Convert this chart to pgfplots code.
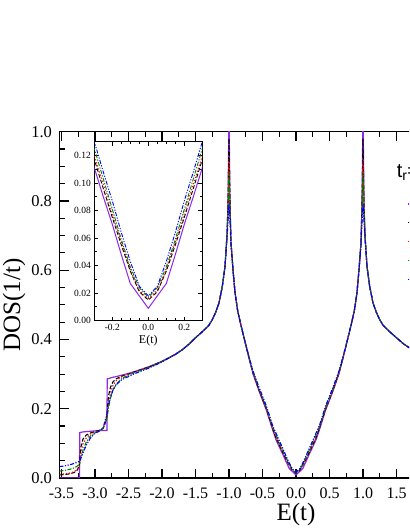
\documentclass[border=0pt]{standalone}
\usepackage{fontspec}
\setmainfont{Liberation Serif}
\newfontfamily\legfont{Liberation Sans}
\usepackage{pgfplots}
\usepackage{pgfplotstable}
\pgfplotsset{compat=1.18}

\definecolor{cviolet}{RGB}{140,40,230}
\definecolor{cgreen}{RGB}{0,130,0}

% DOS curves, one column per t_r value
\pgfplotstableread{
E P K R G B
-3.53 0.000 0.009 0.011 0.020 0.033
-3.45 0.000 0.010 0.012 0.022 0.035
-3.38 0.000 0.012 0.014 0.025 0.038
-3.31 0.000 0.016 0.018 0.029 0.042
-3.26 0.000 0.024 0.025 0.035 0.046
-3.232 0.000 0.040 0.034 0.040 0.048
-3.228 0.131 0.050 0.040 0.043 0.050
-3.21 0.132 0.090 0.070 0.058 0.058
-3.18 0.133 0.112 0.098 0.080 0.072
-3.13 0.134 0.124 0.116 0.104 0.095
-3.07 0.135 0.130 0.127 0.121 0.115
-3.00 0.136 0.134 0.133 0.131 0.129
-2.93 0.137 0.138 0.138 0.137 0.136
-2.88 0.137 0.143 0.143 0.143 0.145
-2.85 0.137 0.158 0.156 0.158 0.165
-2.822 0.137 0.178 0.172 0.172 0.185
-2.818 0.286 0.190 0.180 0.177 0.190
-2.80 0.287 0.235 0.210 0.200 0.212
-2.77 0.289 0.262 0.245 0.230 0.232
-2.73 0.291 0.278 0.268 0.255 0.255
-2.68 0.293 0.287 0.282 0.272 0.270
-2.60 0.297 0.294 0.292 0.287 0.284
-2.50 0.302 0.300 0.299 0.297 0.293
-2.40 0.308 0.307 0.306 0.305 0.302
-2.20 0.321 0.320 0.320 0.319 0.317
-2.00 0.337 0.337 0.336 0.336 0.335
-1.80 0.357 0.357 0.357 0.357 0.357
-1.70 0.370 0.370 0.370 0.370 0.370
-1.60 0.386 0.386 0.386 0.386 0.386
-1.50 0.405 0.405 0.405 0.405 0.405
-1.40 0.422 0.422 0.422 0.422 0.422
-1.30 0.441 0.441 0.441 0.441 0.441
-1.25 0.457 0.457 0.457 0.457 0.457
-1.20 0.478 0.478 0.478 0.478 0.478
-1.15 0.505 0.505 0.505 0.505 0.505
-1.10 0.553 0.553 0.553 0.553 0.553
-1.06 0.610 0.610 0.610 0.610 0.610
-1.03 0.700 0.700 0.700 0.700 0.690
-1.015 0.790 0.790 0.780 0.770 0.740
-1.00 1.060 0.980 0.920 0.880 0.790
-0.985 0.790 0.790 0.780 0.770 0.740
-0.97 0.680 0.680 0.680 0.680 0.670
-0.94 0.600 0.600 0.600 0.600 0.600
-0.91 0.535 0.535 0.535 0.535 0.535
-0.87 0.482 0.482 0.482 0.482 0.482
-0.82 0.440 0.440 0.440 0.440 0.440
-0.77 0.400 0.400 0.400 0.400 0.401
-0.70 0.345 0.346 0.346 0.347 0.349
-0.64 0.300 0.302 0.303 0.305 0.308
-0.55 0.250 0.253 0.254 0.256 0.261
-0.44 0.195 0.198 0.199 0.202 0.207
-0.35 0.140 0.143 0.145 0.148 0.152
-0.30 0.111 0.117 0.120 0.125 0.130
-0.25 0.090 0.096 0.099 0.103 0.108
-0.20 0.070 0.075 0.078 0.081 0.087
-0.15 0.048 0.055 0.057 0.059 0.064
-0.10 0.027 0.036 0.037 0.039 0.043
-0.05 0.018 0.021 0.022 0.024 0.025
0.00 0.009 0.015 0.016 0.017 0.018
0.05 0.018 0.021 0.022 0.024 0.025
0.10 0.027 0.036 0.037 0.039 0.043
0.15 0.048 0.055 0.057 0.059 0.064
0.20 0.070 0.075 0.078 0.081 0.087
0.25 0.090 0.096 0.099 0.103 0.108
0.30 0.111 0.117 0.120 0.125 0.130
0.35 0.140 0.143 0.145 0.148 0.152
0.44 0.195 0.198 0.199 0.202 0.207
0.55 0.250 0.253 0.254 0.256 0.261
0.64 0.300 0.302 0.303 0.305 0.308
0.70 0.345 0.346 0.346 0.347 0.349
0.77 0.400 0.400 0.400 0.400 0.401
0.82 0.440 0.440 0.440 0.440 0.440
0.87 0.482 0.482 0.482 0.482 0.482
0.91 0.535 0.535 0.535 0.535 0.535
0.94 0.600 0.600 0.600 0.600 0.600
0.97 0.680 0.680 0.680 0.680 0.670
0.985 0.790 0.790 0.780 0.770 0.740
1.00 1.060 0.980 0.920 0.880 0.790
1.015 0.790 0.790 0.780 0.770 0.740
1.03 0.700 0.700 0.700 0.700 0.690
1.06 0.610 0.610 0.610 0.610 0.610
1.10 0.553 0.553 0.553 0.553 0.553
1.15 0.505 0.505 0.505 0.505 0.505
1.20 0.478 0.478 0.478 0.478 0.478
1.25 0.457 0.457 0.457 0.457 0.457
1.30 0.441 0.441 0.441 0.441 0.441
1.40 0.422 0.422 0.422 0.422 0.422
1.50 0.405 0.405 0.405 0.405 0.405
1.60 0.388 0.388 0.388 0.388 0.388
1.70 0.375 0.375 0.375 0.375 0.375
1.80 0.365 0.365 0.365 0.365 0.365
1.90 0.355 0.355 0.355 0.355 0.355
}\dos

\pgfplotsset{
  sviolet/.style={cviolet, line width=1.2pt, solid},
  sblack/.style={black, line width=1.1pt, dash pattern=on 4pt off 2pt},
  sred/.style={red, line width=1.2pt, dash pattern=on 1.2pt off 2pt},
  sgreen/.style={cgreen, line width=1.1pt, dash pattern=on 4pt off 1.5pt on 1.2pt off 1.5pt},
  sblue/.style={blue, line width=1.1pt, dash pattern=on 4pt off 1.5pt on 1.2pt off 1.5pt on 1.2pt off 1.5pt},
  fmtone/.style={/pgf/number format/fixed, /pgf/number format/fixed zerofill, /pgf/number format/precision=1},
  fmttwo/.style={/pgf/number format/fixed, /pgf/number format/fixed zerofill, /pgf/number format/precision=2},
}

\begin{document}
\begin{tikzpicture}
\useasboundingbox (0,0) rectangle (409pt,529pt);
\clip (0,0) rectangle (409pt,529pt);

\begin{axis}[
    at={(59.5pt,51pt)}, anchor=south west, scale only axis,
    width=473pt, height=346.3pt,
    xmin=-3.53, xmax=3.53, ymin=0, ymax=1,
    xtick={-3.5,-3,-2.5,-2,-1.5,-1,-0.5,0,0.5,1,1.5,2,2.5,3,3.5},
    minor x tick num=1,
    ytick={0,0.2,0.4,0.6,0.8,1},
    minor y tick num=3,
    major tick length=9pt, minor tick length=5pt,
    every tick/.style={black, line width=1.2pt},
    axis line style={line width=1.5pt},
    /pgf/number format/assume math mode=true,
    xticklabel style={fmtone, font=\fontsize{16}{18}\selectfont, yshift=-6.5pt},
    yticklabel style={fmtone, font=\fontsize{16.5}{18}\selectfont, xshift=-4pt},
    label style={font=\fontsize{25}{28}\selectfont},
    xlabel={E(t)}, ylabel={DOS(1/t)},
    xlabel style={at={(axis description cs:0.5,-0.1233)}, anchor=base},
    ylabel style={at={(axis description cs:-0.0962,0.5)}, anchor=center},
    legend style={at={(axis cs:1.66,0.812)}, anchor=north west, draw=none, fill=none,
        inner sep=0pt, row sep=5pt, font=\legfont\fontsize{12}{14}\selectfont,
        nodes={inner sep=2pt}},
    legend cell align=left,
]
\addplot[sviolet] table[x=E, y=P] {\dos}; \addlegendentry{0.0}
\addplot[sblack] table[x=E, y=K] {\dos}; \addlegendentry{0.1}
\addplot[sred] table[x=E, y=R] {\dos}; \addlegendentry{0.2}
\addplot[sgreen] table[x=E, y=G] {\dos}; \addlegendentry{0.3}
\addplot[sblue] table[x=E, y=B] {\dos}; \addlegendentry{0.4}
\node[anchor=base west, font=\legfont\fontsize{20}{22}\selectfont] at (axis cs:1.451,0.867) {t\textsubscript{r}=};
\end{axis}

% inset: zoom around E = 0
\begin{axis}[
    at={(94.3pt,208.3pt)}, anchor=south west, scale only axis,
    width=108pt, height=179pt,
    xmin=-0.3, xmax=0.3, ymin=0, ymax=0.13,
    xtick={-0.2,0,0.2}, minor x tick num=3,
    ytick={0,0.02,0.04,0.06,0.08,0.1,0.12}, minor y tick num=1,
    major tick length=4pt, minor tick length=2.5pt,
    every tick/.style={black, line width=0.9pt},
    axis line style={line width=1.2pt},
    axis background/.style={fill=white},
    /pgf/number format/assume math mode=true,
    xticklabel style={fmtone, font=\fontsize{9.5}{10}\selectfont},
    yticklabel style={fmttwo, font=\fontsize{9.5}{10}\selectfont},
    label style={font=\fontsize{12}{14}\selectfont},
    xlabel={E(t)},
    xlabel style={at={(axis description cs:0.5,-0.128)}, anchor=base},
]
\addplot[sviolet, line width=1pt] table[x=E, y=P] {\dos};
\addplot[sblack, line width=0.9pt] table[x=E, y=K] {\dos};
\addplot[sred, line width=1pt] table[x=E, y=R] {\dos};
\addplot[sgreen, line width=0.9pt] table[x=E, y=G] {\dos};
\addplot[sblue, line width=0.9pt] table[x=E, y=B] {\dos};
\end{axis}
\end{tikzpicture}
\end{document}
